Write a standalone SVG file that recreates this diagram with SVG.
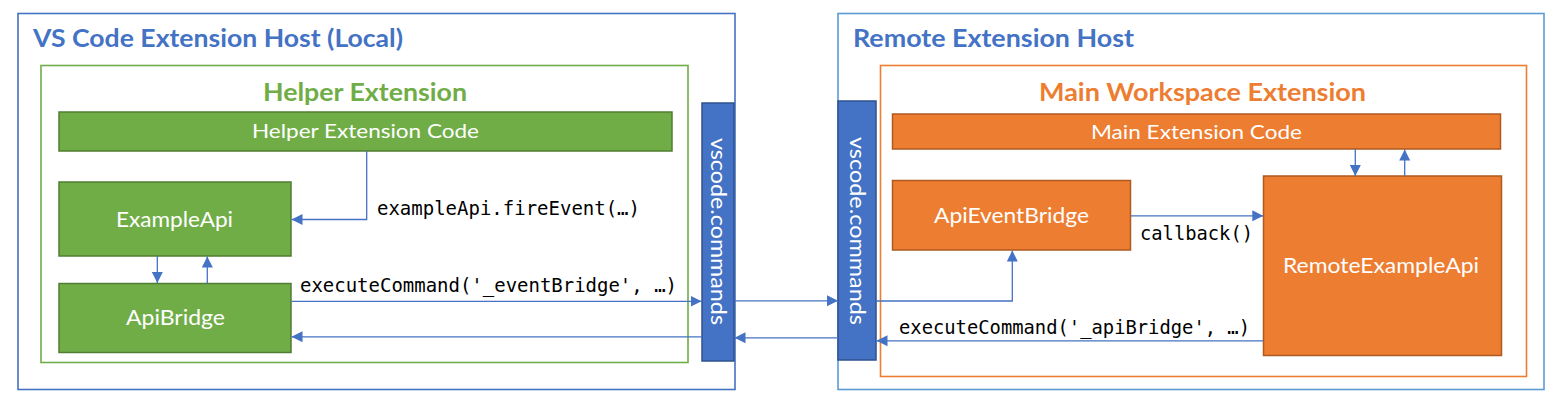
<svg xmlns="http://www.w3.org/2000/svg" width="1558" height="408" viewBox="0 0 1558 408">
<defs>
<marker id="ah" viewBox="0 0 10 10" refX="10" refY="5" markerWidth="11" markerHeight="12" markerUnits="userSpaceOnUse" orient="auto">
<path d="M0,0 L10,5 L0,10 z" fill="#4472C4"/>
</marker>
<style>
.host{fill:#fff;stroke-width:1.6}
.t{font-family:Lato,"Liberation Sans",sans-serif;font-weight:bold}
.lbl{font-family:Lato,"Liberation Sans",sans-serif;fill:#fff}
.mono{font-family:"DejaVu Sans Mono","Liberation Mono",monospace;font-size:19px;fill:#000}
.g{fill:#70AD47;stroke:#507E32;stroke-width:1.5}
.o{fill:#ED7D31;stroke:#AE5A21;stroke-width:1.5}
.b{fill:#4472C4;stroke:#2F528F;stroke-width:1.5}
.c{fill:none;stroke:#4472C4;stroke-width:1.3;marker-end:url(#ah)}
</style>
</defs>
<rect width="1558" height="408" fill="#fff"/>
<g id="local-host">
<rect class="host" x="18" y="13.5" width="717" height="376" stroke="#4472C4"/>
<text class="t" x="33" y="47" font-size="24" fill="#4472C4" textLength="370" lengthAdjust="spacingAndGlyphs">VS Code Extension Host (Local)</text>
</g>
<g id="remote-host">
<rect class="host" x="838" y="13.5" width="706" height="376" stroke="#5B9BD5"/>
<text class="t" x="853" y="47" font-size="24" fill="#4472C4" textLength="281" lengthAdjust="spacingAndGlyphs">Remote Extension Host</text>
</g>
<g id="helper-extension">
<rect x="41" y="65.5" width="647" height="297" fill="none" stroke="#70AD47" stroke-width="1.6"/>
<text class="t" x="263" y="101" font-size="24" fill="#70AD47" textLength="204" lengthAdjust="spacingAndGlyphs">Helper Extension</text>
</g>
<g id="main-workspace-extension">
<rect x="880.5" y="65.5" width="646" height="311" fill="none" stroke="#ED7D31" stroke-width="1.6"/>
<text class="t" x="1039" y="101" font-size="24" fill="#ED7D31" textLength="327" lengthAdjust="spacingAndGlyphs">Main Workspace Extension</text>
</g>
<g id="helper-extension-code">
<rect class="g" x="59" y="112" width="613" height="39"/>
<text class="lbl" x="252" y="138" font-size="19" textLength="227" lengthAdjust="spacingAndGlyphs">Helper Extension Code</text>
</g>
<g id="example-api">
<rect class="g" x="59" y="182" width="232" height="74"/>
<text class="lbl" x="116" y="227" font-size="21" textLength="117" lengthAdjust="spacingAndGlyphs">ExampleApi</text>
</g>
<g id="api-bridge">
<rect class="g" x="59" y="283.5" width="232" height="69"/>
<text class="lbl" x="126" y="325" font-size="21" textLength="99" lengthAdjust="spacingAndGlyphs">ApiBridge</text>
</g>
<g id="vscode-commands-local">
<rect class="b" x="702" y="103" width="32" height="258"/>
<text class="lbl" transform="translate(711,138) rotate(90)" font-size="21" textLength="187" lengthAdjust="spacingAndGlyphs">vscode.commands</text>
</g>
<g id="vscode-commands-remote">
<rect class="b" x="838" y="101" width="38" height="259"/>
<text class="lbl" transform="translate(850,137) rotate(90)" font-size="21" textLength="188" lengthAdjust="spacingAndGlyphs">vscode.commands</text>
</g>
<g id="main-extension-code">
<rect class="o" x="892.5" y="114" width="608" height="35"/>
<text class="lbl" x="1091" y="139" font-size="19" textLength="211" lengthAdjust="spacingAndGlyphs">Main Extension Code</text>
</g>
<g id="api-event-bridge">
<rect class="o" x="892.5" y="180.5" width="238" height="69.5"/>
<text class="lbl" x="934" y="223" font-size="22" textLength="155" lengthAdjust="spacingAndGlyphs">ApiEventBridge</text>
</g>
<g id="remote-example-api">
<rect class="o" x="1263.5" y="176" width="238" height="179.5"/>
<text class="lbl" x="1283" y="273" font-size="21" textLength="196" lengthAdjust="spacingAndGlyphs">RemoteExampleApi</text>
</g>
<g id="connectors">
<path class="c" d="M366.7,151 V219.5 H291.5"/>
<path class="c" d="M157.3,256 V283"/>
<path class="c" d="M207.3,283.5 V256.5"/>
<path class="c" d="M291.5,301.3 H701.5"/>
<path class="c" d="M702,336.8 H291.5"/>
<path class="c" d="M734.5,300.8 H838"/>
<path class="c" d="M838,337.8 H734.5"/>
<path class="c" d="M876,301 H1012.3 V250.5"/>
<path class="c" d="M1131,215.8 H1263.3"/>
<path class="c" d="M1355.3,149 V176"/>
<path class="c" d="M1404.7,176 V149.5"/>
<path class="c" d="M1263.3,340.8 H876.5"/>
<text class="mono" x="377" y="215" textLength="263" lengthAdjust="spacingAndGlyphs">exampleApi.fireEvent(…)</text>
<text class="mono" x="300" y="292" textLength="377" lengthAdjust="spacingAndGlyphs">executeCommand('_eventBridge', …)</text>
<text class="mono" x="1140" y="240" textLength="113" lengthAdjust="spacingAndGlyphs">callback()</text>
<text class="mono" x="899" y="334" textLength="351" lengthAdjust="spacingAndGlyphs">executeCommand('_apiBridge', …)</text>
</g>
</svg>
